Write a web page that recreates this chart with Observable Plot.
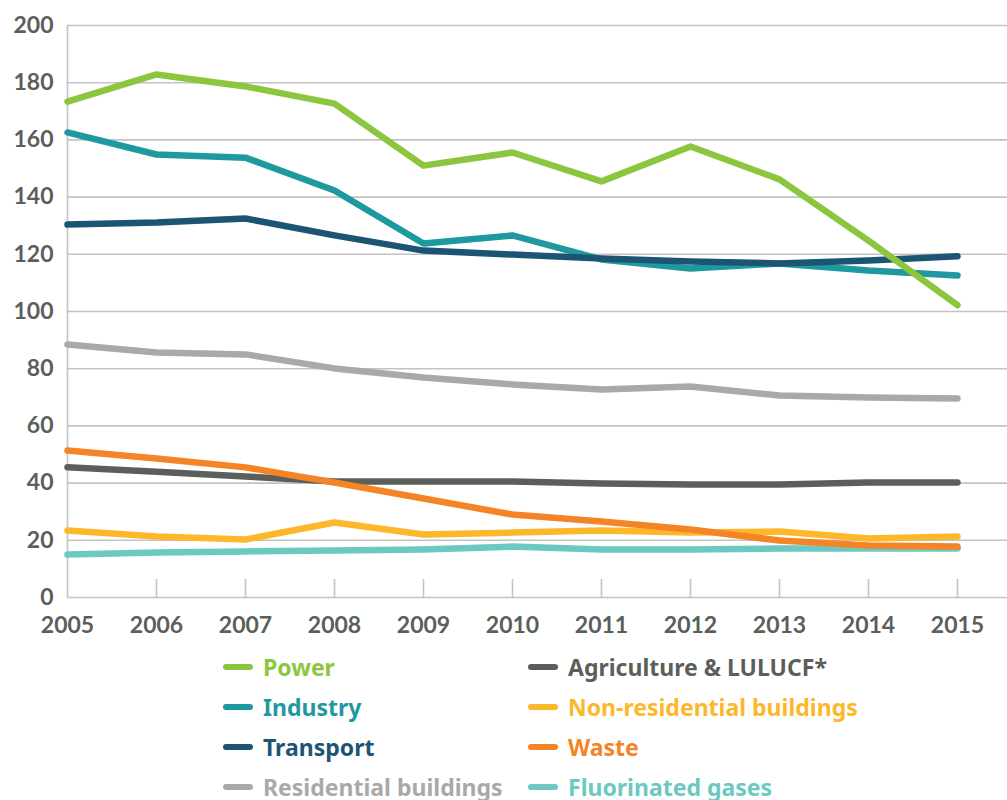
<!DOCTYPE html>
<html>
<head>
<meta charset="utf-8">
<script src="https://cdn.jsdelivr.net/npm/d3@7"></script>
<script src="https://cdn.jsdelivr.net/npm/@observablehq/plot@0.6"></script>
<style>
  body { margin: 0; background: #fff; font-family: Lato, "Noto Sans", sans-serif; }
  #legend { display: grid; grid-template-columns: 305px 440px; padding-left: 223px; }
  .item { display: flex; align-items: center; height: 40px; font-family: "Noto Sans", sans-serif; font-weight: 700; font-size: 23px; white-space: nowrap; }
  .sw { width: 30px; height: 6px; border-radius: 3px; margin-right: 10px; flex: none; }
</style>
</head>
<body>
<div id="chart"></div>
<div id="legend"></div>
<script>
const years = [2005, 2006, 2007, 2008, 2009, 2010, 2011, 2012, 2013, 2014, 2015];
const yTicks = [0, 20, 40, 60, 80, 100, 120, 140, 160, 180, 200];

const power        = [173.4, 182.9, 178.7, 172.7, 151.0, 155.6, 145.5, 157.7, 146.2, 124.8, 102.2];
const industry     = [162.6, 154.9, 153.8, 142.3, 123.8, 126.6, 118.2, 115.0, 116.8, 114.3, 112.6];
const transport    = [130.4, 131.1, 132.5, 126.6, 121.3, 119.9, 118.5, 117.5, 116.8, 117.8, 119.3];
const residential  = [88.5, 85.7, 85.0, 80.1, 76.9, 74.5, 72.7, 73.8, 70.6, 69.9, 69.6];
const agriculture  = [45.5, 44.0, 42.3, 40.6, 40.6, 40.6, 39.9, 39.5, 39.5, 40.2, 40.2];
const nonResidential = [23.4, 21.3, 20.3, 26.2, 22.0, 22.7, 23.4, 22.7, 23.1, 20.6, 21.3];
const waste        = [51.4, 48.6, 45.5, 40.2, 34.6, 29.0, 26.6, 23.8, 19.9, 18.2, 17.8];
const fluorinated  = [15.0, 15.7, 16.1, 16.4, 16.8, 17.8, 16.8, 16.8, 17.1, 17.1, 17.1];

const series = [
  {name: "Power", values: power, color: "#8cc63f"},
  {name: "Industry", values: industry, color: "#1f99a0"},
  {name: "Transport", values: transport, color: "#1c5574"},
  {name: "Residential buildings", values: residential, color: "#a8a9a9"},
  {name: "Agriculture & LULUCF*", values: agriculture, color: "#5b5f5a"},
  {name: "Non-residential buildings", values: nonResidential, color: "#fdb72b"},
  {name: "Waste", values: waste, color: "#f58426"},
  {name: "Fluorinated gases", values: fluorinated, color: "#6bc9c1"}
];
// drawing order (later drawn on top)
const drawOrder = ["Residential buildings", "Fluorinated gases", "Non-residential buildings", "Agriculture & LULUCF*", "Waste", "Industry", "Transport", "Power"];

const rows = series.flatMap(s => s.values.map((v, i) => ({series: s.name, year: years[i], value: v})));

const textColor = "#5b5f5a";
const gridColor = "#c3c3c3";

const chart = Plot.plot({
  width: 1007,
  height: 647,
  marginLeft: 67,
  marginRight: 0,
  marginTop: 25,
  marginBottom: 50,
  style: {fontFamily: "Lato, 'Noto Sans', sans-serif", fontWeight: 700, fontSize: "23px", color: textColor, background: "#fff"},
  x: {domain: [2005, 2015.562], axis: null},
  y: {domain: [0, 200], axis: null},
  marks: [
    Plot.ruleY(yTicks, {stroke: gridColor, strokeWidth: 1.6}),
    Plot.ruleX([2005], {stroke: gridColor, strokeWidth: 1.6}),
    Plot.ruleX(years.slice(1), {x: d => d, y1: 0, y2: 0, insetBottom: 18, stroke: gridColor, strokeWidth: 1.6}),
    Plot.axisY({ticks: yTicks, tickSize: 0, tickPadding: 14, fill: textColor, fontSize: 23, fontWeight: 700, label: null}),
    Plot.axisX({ticks: years, tickSize: 0, tickPadding: 19, tickFormat: d => String(d), fill: textColor, fontSize: 23, fontWeight: 700, label: null}),
    ...drawOrder.map(name => {
      const s = series.find(d => d.name === name);
      return Plot.line(rows.filter(r => r.series === name), {
        x: "year", y: "value", stroke: s.color, strokeWidth: 6.5,
        strokeLinecap: "round", strokeLinejoin: "round"
      });
    })
  ]
});
document.getElementById("chart").appendChild(chart);

const legendOrder = ["Power", "Agriculture & LULUCF*", "Industry", "Non-residential buildings", "Transport", "Waste", "Residential buildings", "Fluorinated gases"];
const legend = document.getElementById("legend");
for (const name of legendOrder) {
  const s = series.find(d => d.name === name);
  const item = document.createElement("div");
  item.className = "item";
  item.style.color = s.color;
  const sw = document.createElement("span");
  sw.className = "sw";
  sw.style.background = s.color;
  item.appendChild(sw);
  item.appendChild(document.createTextNode(name));
  legend.appendChild(item);
}
</script>
</body>
</html>
